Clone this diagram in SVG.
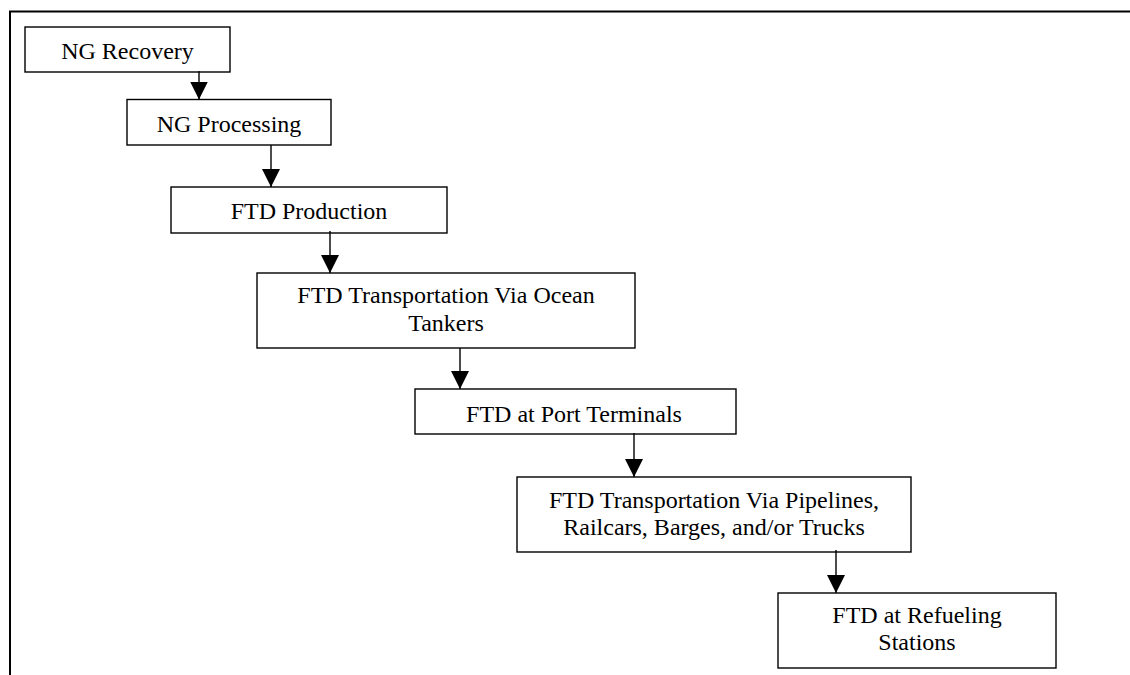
<svg xmlns="http://www.w3.org/2000/svg" width="1130" height="675" viewBox="0 0 1130 675">
<style>
.box{fill:#fff;stroke:#000;stroke-width:1.4}
.t{font-family:"Liberation Serif","Times New Roman",serif;font-size:24px;fill:#000;text-anchor:middle}
.c{stroke:#000;stroke-width:1.4;fill:none}
</style>
<defs>
<marker id="ah" markerUnits="userSpaceOnUse" markerWidth="18" markerHeight="18" refX="18" refY="9" orient="auto" viewBox="0 0 18 18">
<path d="M0,0 L18,9 L0,18 Z" fill="#000"/>
</marker>
</defs>
<rect width="1130" height="675" fill="#fff"/>
<path d="M10,675 V11.5 H1130" fill="none" stroke="#000" stroke-width="2"/>
<g id="n1"><rect class="box" x="25" y="27" width="205" height="45"/><text class="t" x="127.5" y="59">NG Recovery</text></g>
<g id="n2"><rect class="box" x="127" y="99.5" width="204" height="45.5"/><text class="t" x="229" y="131.5">NG Processing</text></g>
<g id="n3"><rect class="box" x="171" y="187" width="276" height="46"/><text class="t" x="309" y="219">FTD Production</text></g>
<g id="n4"><rect class="box" x="257" y="273" width="378" height="75"/><text class="t" x="446" y="303">FTD Transportation Via Ocean</text><text class="t" x="446" y="331">Tankers</text></g>
<g id="n5"><rect class="box" x="415" y="389" width="321" height="45"/><text class="t" x="574" y="421.5">FTD at Port Terminals</text></g>
<g id="n6"><rect class="box" x="517" y="477" width="394" height="75"/><text class="t" x="714" y="508">FTD Transportation Via Pipelines,</text><text class="t" x="714" y="535">Railcars, Barges, and/or Trucks</text></g>
<g id="n7"><rect class="box" x="778" y="593" width="278" height="75"/><text class="t" x="917" y="623">FTD at Refueling</text><text class="t" x="917" y="650">Stations</text></g>
<g id="connectors">
<line class="c" x1="199" y1="71" x2="199" y2="99.5" marker-end="url(#ah)"/>
<line class="c" x1="271" y1="145" x2="271" y2="187" marker-end="url(#ah)"/>
<line class="c" x1="330" y1="231" x2="330" y2="273" marker-end="url(#ah)"/>
<line class="c" x1="460" y1="348" x2="460" y2="389" marker-end="url(#ah)"/>
<line class="c" x1="634" y1="433" x2="634" y2="477" marker-end="url(#ah)"/>
<line class="c" x1="836" y1="550" x2="836" y2="593" marker-end="url(#ah)"/>
</g>
</svg>
